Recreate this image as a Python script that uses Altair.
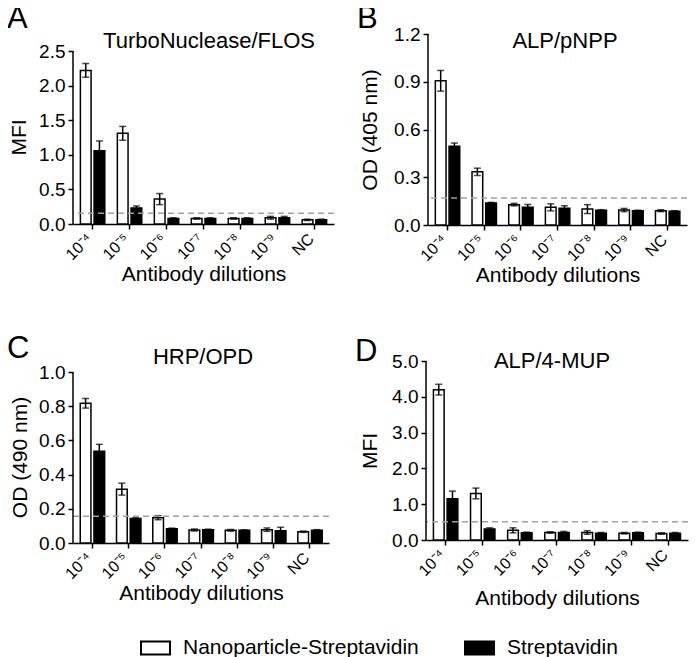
import altair as alt
import pandas as pd

FONT = "Liberation Sans"
categories = ["10⁻⁴", "10⁻⁵", "10⁻⁶", "10⁻⁷", "10⁻⁸", "10⁻⁹", "NC"]
series_names = ["Nanoparticle-Streptavidin", "Streptavidin"]

# Panel A: TurboNuclease/FLOS (MFI)
a_np = [2.22, 1.31, 0.36, 0.08, 0.08, 0.09, 0.06]
a_np_err = [0.10, 0.10, 0.08, 0.01, 0.01, 0.02, 0.01]
a_st = [1.06, 0.23, 0.08, 0.08, 0.08, 0.09, 0.06]
a_st_err = [0.14, 0.03, 0.01, 0.01, 0.01, 0.02, 0.01]
a_cut = 0.154

# Panel B: ALP/pNPP (OD 405 nm)
b_np = [0.906, 0.334, 0.128, 0.111, 0.100, 0.094, 0.090]
b_np_err = [0.065, 0.023, 0.008, 0.022, 0.028, 0.010, 0.006]
b_st = [0.495, 0.138, 0.111, 0.105, 0.092, 0.090, 0.086]
b_st_err = [0.020, 0.004, 0.018, 0.016, 0.004, 0.003, 0.004]
b_cut = 0.17

# Panel C: HRP/OPD (OD 490 nm)
c_np = [0.817, 0.315, 0.148, 0.076, 0.074, 0.078, 0.066]
c_np_err = [0.028, 0.035, 0.012, 0.006, 0.005, 0.010, 0.004]
c_st = [0.537, 0.144, 0.084, 0.078, 0.074, 0.072, 0.074]
c_st_err = [0.040, 0.003, 0.003, 0.003, 0.003, 0.020, 0.004]
c_cut = 0.156

# Panel D: ALP/4-MUP (MFI)
d_np = [4.20, 1.30, 0.27, 0.21, 0.21, 0.19, 0.18]
d_np_err = [0.15, 0.15, 0.07, 0.02, 0.05, 0.02, 0.02]
d_st = [1.155, 0.31, 0.20, 0.21, 0.19, 0.20, 0.19]
d_st_err = [0.21, 0.03, 0.02, 0.03, 0.02, 0.02, 0.02]
d_cut = 0.51

legend = alt.Legend(
    orient="none", legendX=67, legendY=598, direction="horizontal", title=None,
    symbolType="M-1,-0.45H1V0.45H-1Z", symbolSize=841, symbolStrokeColor="black",
    symbolStrokeWidth=2, labelFont=FONT, labelFontSize=21, labelColor="black",
    columnPadding=42, labelOffset=12, labelLimit=400,
)


def panel(letter, title, ytitle, np_v, np_e, st_v, st_e, cut, ymax, ystep, dmax,
          w, h, title_x, title_y, letter_x, letter_y, ypad, xpad, ytitle_y=None):
    rows = []
    for i, c in enumerate(categories):
        rows.append(dict(cat=c, series=series_names[0], value=np_v[i],
                         lo=np_v[i] - np_e[i], hi=np_v[i] + np_e[i]))
        rows.append(dict(cat=c, series=series_names[1], value=st_v[i],
                         lo=st_v[i] - st_e[i], hi=st_v[i] + st_e[i]))
    df = pd.DataFrame(rows)
    ticks = [round(ystep * k, 4) for k in range(int(round(ymax / ystep)) + 1)]
    yscale = alt.Scale(domain=[0, dmax], nice=False)
    ax_kw = dict(title=ytitle, values=ticks, format=".1f", titlePadding=ypad,
                 labelOverlap=False, domain=False)
    if ytitle_y is not None:
        ax_kw["titleY"] = ytitle_y
    yaxis = alt.Axis(**ax_kw)
    base = alt.Chart(df).encode(
        x=alt.X("cat:N", sort=categories,
                scale=alt.Scale(paddingInner=0.34, paddingOuter=0.2),
                axis=alt.Axis(title="Antibody dilutions", labelAngle=-45,
                              labelAlign="right", labelBaseline="middle",
                              labelPadding=7, labelOffset=-3, labelFontSize=16,
                              titlePadding=xpad)),
        xOffset=alt.XOffset("series:N", sort=series_names,
                            scale=alt.Scale(paddingInner=0.22)),
    )
    bars = base.mark_bar(stroke="black", strokeWidth=1.5).encode(
        y=alt.Y("value:Q", scale=yscale, axis=yaxis),
        fill=alt.Fill("series:N", scale=alt.Scale(domain=series_names,
                                                  range=["white", "black"]),
                      legend=legend),
    )
    err = base.mark_rule(color="black", strokeWidth=1.5).encode(
        y=alt.Y("lo:Q", scale=yscale, axis=yaxis), y2="hi:Q")
    cap_hi = base.mark_tick(color="black", thickness=1.5, size=7,
                            orient="horizontal").encode(
        y=alt.Y("hi:Q", scale=yscale, axis=yaxis))
    cap_lo = base.mark_tick(color="black", thickness=1.5, size=7,
                            orient="horizontal").encode(
        y=alt.Y("lo:Q", scale=yscale, axis=yaxis))
    line = alt.Chart(pd.DataFrame({"c": [cut]})).mark_rule(
        color="#a0a0a0", strokeDash=[6, 4], strokeWidth=1.5).encode(
        y=alt.Y("c:Q", scale=yscale, axis=yaxis))
    yline = alt.Chart(pd.DataFrame({"y0": [0.0], "y1": [ymax]})).mark_rule(
        color="black", strokeWidth=1.5).encode(
        x=alt.value(0), y=alt.Y("y0:Q", scale=yscale, axis=yaxis), y2="y1:Q")
    ttl = alt.Chart(pd.DataFrame({"t": [title]})).mark_text(
        font=FONT, fontSize=22, color="black", baseline="alphabetic",
        align="center").encode(text="t:N", x=alt.value(title_x), y=alt.value(title_y))
    let = alt.Chart(pd.DataFrame({"t": [letter]})).mark_text(
        font=FONT, fontSize=31, color="black", baseline="alphabetic",
        align="left").encode(text="t:N", x=alt.value(letter_x), y=alt.value(letter_y))
    return alt.layer(bars, err, cap_hi, cap_lo, line, yline, ttl, let).properties(
        width=w, height=h)


# top row plot tops at the same line; A's axis stops at 2.5
pA = panel("A", "TurboNuclease/FLOS", "MFI", a_np, a_np_err, a_st, a_st_err, a_cut,
           2.5, 0.5, 2.5 * 190 / 173, 261, 190, 136, 14, -66, -6, 9, 1, 103)
pB = panel("B", "ALP/pNPP", "OD (405 nm)", b_np, b_np_err, b_st, b_st_err, b_cut,
           1.2, 0.3, 1.2, 259, 191, 137, 14, -71, -6, 13, 1)
pC = panel("C", "HRP/OPD", "OD (490 nm)", c_np, c_np_err, c_st, c_st_err, c_cut,
           1.0, 0.2, 1.0 * 182 / 171, 256, 182, 130, 3, -66, -3, 8, 1, 96)
pD = panel("D", "ALP/4-MUP", "MFI", d_np, d_np_err, d_st, d_st_err, d_cut,
           5.0, 1.0, 5.0, 262, 179, 126, 7, -71, 0, 11, 9)

chart = alt.vconcat(
    alt.hconcat(pA, pB, spacing=22),
    alt.hconcat(pC, pD, spacing=25),
    spacing=47,
).properties(padding={"left": -1, "top": -5, "right": 0, "bottom": 0}).configure_view(
    stroke=None).configure_axis(
    domainColor="black", domainWidth=1.5, tickColor="black", tickWidth=1.5,
    tickSize=5, labelColor="black", labelFont=FONT, labelFontSize=19,
    titleFont=FONT, titleFontSize=21, titleFontWeight="normal", titleColor="black",
    grid=False, labelPadding=3,
).configure_text(font=FONT)

chart.save("out.html", embed_options={"renderer": "svg", "actions": False})
